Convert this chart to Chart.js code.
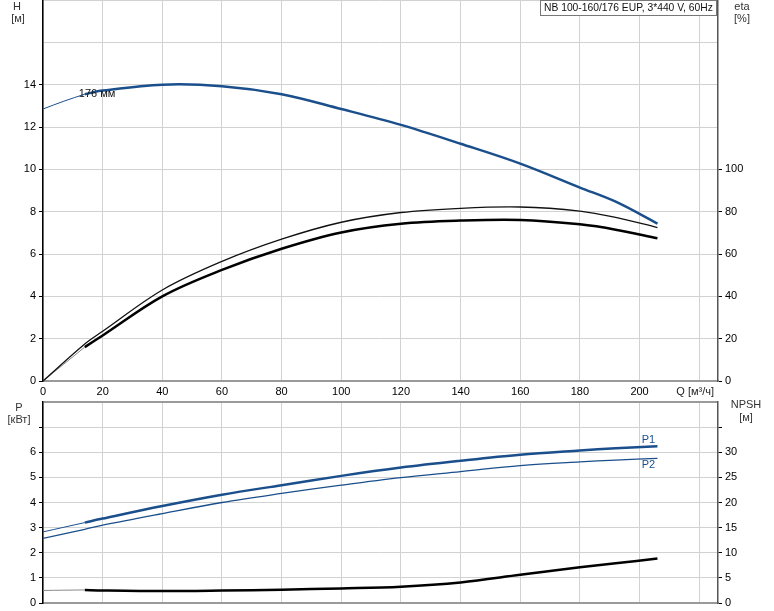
<!DOCTYPE html>
<html>
<head>
<meta charset="utf-8">
<script src="https://cdn.jsdelivr.net/npm/chart.js@4.4.1/dist/chart.umd.min.js"></script>
<style>
  body { margin: 0; background: #fff; }
  #wrap { position: relative; width: 774px; height: 611px; }
  canvas { position: absolute; left: 0; top: 0; }
</style>
</head>
<body>
<div id="wrap">
  <canvas id="top-chart" width="774" height="611"></canvas>
  <canvas id="bottom-chart" width="774" height="611"></canvas>
</div>
<script>
// flow points, m3/h
const qStart = [0, 7, 14];
const qMain = [14, 20, 40, 60, 80, 100, 120, 140, 160, 180, 192, 206];
const qAll = [0, 14, 20, 40, 60, 80, 100, 120, 140, 160, 180, 192, 206];

// head, m
const headStart = [12.85, 13.22, 13.55];
const headMain = [13.55, 13.72, 14.0, 13.93, 13.55, 12.85, 12.1, 11.21, 10.27, 9.14, 8.47, 7.44];

// efficiency, %
const etaPump = [0, 17.5, 23.5, 43, 56.5, 67, 75, 79.6, 81.6, 82.2, 80.3, 77.3, 72.5];
const etaTotalStart = [0, 16];
const etaTotal = [16, 21.5, 40, 52.5, 62.5, 70.2, 74.3, 75.8, 76.1, 74, 71.5, 67.4];

// power, kW
const p1Start = [2.83, 3.2];
const p1Main = [3.2, 3.36, 3.86, 4.31, 4.69, 5.06, 5.39, 5.66, 5.9, 6.07, 6.16, 6.24];
const p2All = [2.57, 2.93, 3.1, 3.56, 4.0, 4.36, 4.69, 4.99, 5.23, 5.47, 5.62, 5.69, 5.76];

// NPSH, m
const npshStart = [2.5, 2.6];
const npshMain = [2.6, 2.5, 2.38, 2.48, 2.65, 2.9, 3.25, 4.1, 5.6, 7.1, 7.9, 8.85];

const qTicks = [0, 20, 40, 60, 80, 100, 120, 140, 160, 180, 200];

const blue = '#1a4f8c';
const font = { family: 'Liberation Sans', size: 11 };

function pts(xs, ys) {
    return xs.map((x, i) => ({ x: x, y: ys[i] }));
}

function line(data, color, width, axis) {
    return {
        data: data,
        borderColor: color,
        borderWidth: width,
        yAxisID: axis,
        pointRadius: 0,
        fill: false,
        tension: 0.35
    };
}

function fixWidth(w) {
    return function(s) {
        s.width = w;
        s.paddingTop = 0;
        s.paddingBottom = 0;
    };
}

function fixHeight(h) {
    return function(s) {
        s.height = h;
        s.paddingLeft = 0;
        s.paddingRight = 0;
    };
}

function text(ctx, str, x, y, align, color, size) {
    ctx.save();
    ctx.font = (size || 11) + 'px "Liberation Sans"';
    ctx.fillStyle = color || '#222';
    ctx.textAlign = align || 'left';
    ctx.textBaseline = 'middle';
    ctx.fillText(str, x, y);
    ctx.restore();
}

const xScale = (showLabels, afterFit) => ({
    type: 'linear',
    min: 0,
    max: 226.3,
    ticks: {
        stepSize: 20,
        includeBounds: false,
        display: showLabels,
        font: font,
        color: '#000',
        padding: 4,
        callback: v => (qTicks.includes(v) ? String(v) : '')
    },
    grid: { color: '#d2d2d2', lineWidth: 1, drawTicks: false },
    border: { display: true, color: '#9a9a9a', width: 2 },
    afterFit: afterFit
});

const topLabels = {
    id: 'topLabels',
    afterDraw(chart) {
        const ctx = chart.ctx;
        const x = chart.scales.x, y = chart.scales.y;
        text(ctx, 'H', 17, 7, 'center', '#333');
        text(ctx, '[м]', 18, 19, 'center', '#333');
        text(ctx, 'eta', 742, 7, 'center', '#333');
        text(ctx, '[%]', 742, 19, 'center', '#333');
        text(ctx, 'Q [м³/ч]', chart.chartArea.right - 4, 392, 'right', '#222');
        text(ctx, '176 мм', x.getPixelForValue(12), y.getPixelForValue(13.58), 'left', '#111');

        ctx.save();
        ctx.fillStyle = '#fff';
        ctx.fillRect(540, 0, 177, 16);
        ctx.strokeStyle = '#777';
        ctx.lineWidth = 1;
        ctx.strokeRect(540.5, 0.5, 176, 15);
        ctx.restore();
        text(ctx, 'NB 100-160/176 EUP, 3*440 V, 60Hz', 544, 8, 'left', '#111', 10.3);
    }
};

const bottomLabels = {
    id: 'bottomLabels',
    afterDraw(chart) {
        const ctx = chart.ctx;
        const x = chart.scales.x, y = chart.scales.y;
        text(ctx, 'P', 19, 408, 'center', '#333');
        text(ctx, '[кВт]', 19, 420, 'center', '#333');
        text(ctx, 'NPSH', 746, 405, 'center', '#333');
        text(ctx, '[м]', 746, 418, 'center', '#333');
        text(ctx, 'P1', x.getPixelForValue(203), y.getPixelForValue(6.5), 'center', blue);
        text(ctx, 'P2', x.getPixelForValue(203), y.getPixelForValue(5.5), 'center', blue);
    }
};

new Chart(document.querySelector('#top-chart'), {
    type: 'line',
    data: {
        datasets: [
            line(pts(qStart, headStart), blue, 1, 'y'),
            line(pts(qMain, headMain), blue, 2.5, 'y'),
            line(pts(qAll, etaPump), '#111', 1.3, 'y2'),
            line(pts([0, 14], etaTotalStart), '#888', 1, 'y2'),
            line(pts(qMain, etaTotal), '#000', 2.5, 'y2')
        ]
    },
    options: {
        responsive: false,
        animation: false,
        devicePixelRatio: 1,
        layout: { padding: { top: 0, bottom: 211, left: 0, right: 0 } },
        plugins: { legend: { display: false }, tooltip: { enabled: false } },
        scales: {
            x: xScale(true, fixHeight(19)),
            y: {
                position: 'left',
                min: 0,
                max: 18,
                ticks: {
                    stepSize: 2,
                    font: font,
                    color: '#000',
                    padding: 3,
                    callback: v => (v <= 14 ? String(v) : '')
                },
                grid: {
                    color: '#d2d2d2',
                    tickLength: 4,
                    tickColor: c => (c.tick && c.tick.value <= 14 ? '#000' : 'rgba(0,0,0,0)')
                },
                border: { display: true, color: '#000', width: 1.5 },
                afterFit: fixWidth(43)
            },
            y2: {
                position: 'right',
                min: 0,
                max: 180,
                ticks: {
                    stepSize: 20,
                    font: font,
                    color: '#000',
                    padding: 3,
                    callback: v => (v <= 100 ? String(v) : '')
                },
                grid: {
                    drawOnChartArea: false,
                    tickLength: 4,
                    tickColor: c => (c.tick && c.tick.value <= 100 ? '#000' : 'rgba(0,0,0,0)')
                },
                border: { display: true, color: '#555', width: 1.5 },
                afterFit: fixWidth(56)
            }
        }
    },
    plugins: [topLabels]
});

new Chart(document.querySelector('#bottom-chart'), {
    type: 'line',
    data: {
        datasets: [
            line(pts([0, 14], p1Start), blue, 1, 'y'),
            line(pts(qMain, p1Main), blue, 2.5, 'y'),
            line(pts(qAll, p2All), blue, 1.3, 'y'),
            line(pts([0, 14], npshStart), '#888', 1, 'y2'),
            line(pts(qMain, npshMain), '#000', 2.5, 'y2')
        ]
    },
    options: {
        responsive: false,
        animation: false,
        devicePixelRatio: 1,
        layout: { padding: { top: 402, bottom: 0, left: 0, right: 0 } },
        plugins: { legend: { display: false }, tooltip: { enabled: false } },
        scales: {
            x: xScale(false, fixHeight(8)),
            y: {
                position: 'left',
                min: 0,
                max: 8,
                ticks: {
                    stepSize: 1,
                    font: font,
                    color: '#000',
                    padding: 3,
                    callback: v => (v <= 6 ? String(v) : '')
                },
                grid: {
                    color: c => (c.tick && c.tick.value === 8 ? '#9a9a9a' : '#d2d2d2'),
                    lineWidth: c => (c.tick && c.tick.value === 8 ? 2 : 1),
                    tickLength: 4,
                    tickColor: c => (c.tick && c.tick.value <= 7 ? '#000' : 'rgba(0,0,0,0)')
                },
                border: { display: true, color: '#000', width: 1.5 },
                afterFit: fixWidth(43)
            },
            y2: {
                position: 'right',
                min: 0,
                max: 40,
                ticks: {
                    stepSize: 5,
                    font: font,
                    color: '#000',
                    padding: 3,
                    callback: v => (v <= 30 ? String(v) : '')
                },
                grid: {
                    drawOnChartArea: false,
                    tickLength: 4,
                    tickColor: c => (c.tick && c.tick.value <= 35 ? '#000' : 'rgba(0,0,0,0)')
                },
                border: { display: true, color: '#555', width: 1.5 },
                afterFit: fixWidth(56)
            }
        }
    },
    plugins: [bottomLabels]
});
</script>
</body>
</html>
